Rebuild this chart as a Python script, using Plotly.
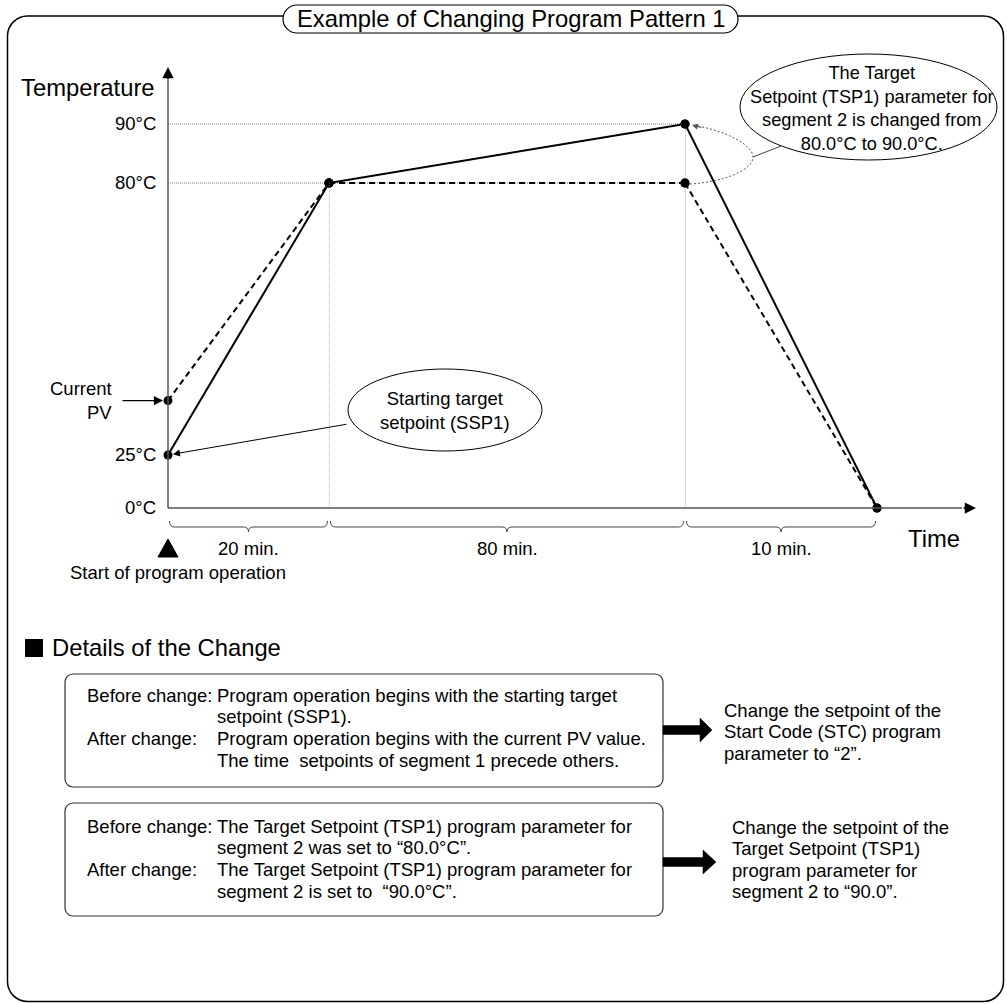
import plotly.graph_objects as go

W, H = 1007, 1004
FONT = "Liberation Sans, Arial, sans-serif"

# ---------------- data ----------------
TIME_BOUNDS = [0, 20, 100, 110]            # minutes at segment boundaries
SEG_LABELS = ["20 min.", "80 min.", "10 min."]
SOLID_TEMPS = [25, 80, 90, 0]              # SSP1 start, TSP1 of segment 2 = 90.0
DASHED_TEMPS = [36, 80, 80, 0]             # start from current PV, TSP1 of segment 2 = 80.0
CURRENT_PV = 36
TICK_TEMPS = [90, 80, 25, 0]
TICK_LABELS = ["90°C", "80°C", "25°C", "0°C"]

BOX1_LABELS = ["Before change:", "", "After change:", ""]
BOX1_VALUES = ["Program operation begins with the starting target",
               "setpoint (SSP1).",
               "Program operation begins with the current PV value.",
               "The time  setpoints of segment 1 precede others."]
BOX2_LABELS = ["Before change:", "", "After change:", ""]
BOX2_VALUES = ["The Target Setpoint (TSP1) program parameter for",
               "segment 2 was set to \u201c80.0°C\u201d.",
               "The Target Setpoint (TSP1) program parameter for",
               "segment 2 is set to  \u201c90.0°C\u201d."]
ACTION1 = ["Change the setpoint of the", "Start Code (STC) program", "parameter to \u201c2\u201d."]
ACTION2 = ["Change the setpoint of the", "Target Setpoint (TSP1)", "program parameter for",
           "segment 2 to \u201c90.0\u201d."]

# ---------------- layout (schematic, not-to-scale axes) ----------------
AX_X_PX = [168, 329, 685, 877]      # pixel columns of the segment axes
AX_BOTTOM, AX_TOP = 508, 68
# each y-axis is a schematic scale calibrated by two (value, pixel-row) pairs
Y_CAL = {
    "y":  ((25, 455), (80, 183)),
    "y2": ((80, 183), (90, 124)),
    "y3": ((0, 508), (90, 124)),
    "y4": ((0, 508), (80, 183)),
}
SOLID_Y = ["y", "y2", "y3"]
DASHED_Y = ["y", "y2", "y4"]
XAX = ["x", "x2", "x3"]


def X(px):
    return px / W


def Y(py):
    return 1 - py / H


def yrange(cal):
    (v1, p1), (v2, p2) = cal
    s = (p1 - p2) / (v2 - v1)
    return [v1 - (AX_BOTTOM - p1) / s, v1 + (p1 - AX_TOP) / s]


def path(cmds):
    out = []
    for c in cmds:
        op, pts = c[0], c[1:]
        coords = " ".join(f"{X(pts[i]):.5f},{Y(pts[i + 1]):.5f}" for i in range(0, len(pts), 2))
        out.append(op + coords)
    return " ".join(out)


def rrect(x0, y0, x1, y1, r):
    k = 0.5523 * r
    return path([
        ("M", x0 + r, y0), ("L", x1 - r, y0), ("C", x1 - r + k, y0, x1, y0 + r - k, x1, y0 + r),
        ("L", x1, y1 - r), ("C", x1, y1 - r + k, x1 - r + k, y1, x1 - r, y1),
        ("L", x0 + r, y1), ("C", x0 + r - k, y1, x0, y1 - r + k, x0, y1 - r),
        ("L", x0, y0 + r), ("C", x0, y0 + r - k, x0 + r - k, y0, x0 + r, y0), ("Z",),
    ])


fig = go.Figure()

GRID = dict(color="#777777", width=1, dash="1px,1px")
# reference grid lines at 90 and 80
for t in [90, 80]:
    for i in range(2):
        fig.add_trace(go.Scatter(x=TIME_BOUNDS[i:i + 2], y=[t, t], xaxis=XAX[i], yaxis="y2",
                                 mode="lines", line=GRID, hoverinfo="skip", cliponaxis=False))
fig.add_trace(go.Scatter(x=[TIME_BOUNDS[1]] * 2, y=[0, DASHED_TEMPS[1]], xaxis="x2", yaxis="y4",
                         mode="lines", line=GRID, hoverinfo="skip", cliponaxis=False))
fig.add_trace(go.Scatter(x=[TIME_BOUNDS[2]] * 2, y=[0, SOLID_TEMPS[2]], xaxis="x3", yaxis="y3",
                         mode="lines", line=GRID, hoverinfo="skip", cliponaxis=False))

# program patterns
for i in range(3):
    fig.add_trace(go.Scatter(x=TIME_BOUNDS[i:i + 2], y=DASHED_TEMPS[i:i + 2], xaxis=XAX[i], yaxis=DASHED_Y[i],
                             mode="lines+markers", line=dict(color="black", width=2, dash="6px,4px"),
                             marker=dict(size=9, color="black"), cliponaxis=False, hoverinfo="skip"))
for i in range(3):
    fig.add_trace(go.Scatter(x=TIME_BOUNDS[i:i + 2], y=SOLID_TEMPS[i:i + 2], xaxis=XAX[i], yaxis=SOLID_Y[i],
                             mode="lines+markers", line=dict(color="black", width=2),
                             marker=dict(size=9, color="black"), cliponaxis=False, hoverinfo="skip"))

shapes = []


def shp(**kw):
    kw.setdefault("xref", "paper")
    kw.setdefault("yref", "paper")
    shapes.append(kw)


# outer frame and title pill
shp(type="path", path=rrect(7.5, 16, 1003.5, 1001.5, 20), line=dict(color="black", width=1.5))
shp(type="path", path=rrect(283, 5, 738, 33, 14), line=dict(color="black", width=1.2), fillcolor="white")
# axes
shp(type="line", x0=X(168), x1=X(168), y0=Y(AX_BOTTOM), y1=Y(80), line=dict(color="#555555", width=1.5))
shp(type="line", x0=X(168), x1=X(962), y0=Y(AX_BOTTOM), y1=Y(AX_BOTTOM), line=dict(color="#555555", width=1.5))
# braces
for i in range(3):
    xl, xr = AX_X_PX[i] + 1.5, AX_X_PX[i + 1] - 1.5
    xc, c = (xl + xr) / 2, 5
    shp(type="path", line=dict(color="#444444", width=1),
        path=path([("M", xl, 521), ("Q", xl, 527, xl + c, 527), ("L", xc - c, 527),
                   ("Q", xc, 527, xc, 532), ("Q", xc, 527, xc + c, 527), ("L", xr - c, 527),
                   ("Q", xr, 527, xr, 521)]))
# start marker triangle
shp(type="path", path=path([("M", 158, 557), ("L", 178, 557), ("L", 168, 539), ("Z",)]),
    fillcolor="black", line=dict(color="black", width=1))
# callout ellipses
shp(type="circle", x0=X(348), x1=X(542), y0=Y(451), y1=Y(369), line=dict(color="black", width=1),
    fillcolor="white")
shp(type="circle", x0=X(740), x1=X(997), y0=Y(160), y1=Y(54), line=dict(color="black", width=1),
    fillcolor="white")
# dotted arc between 80 and 90 points, and connector
shp(type="path", line=dict(color="#555555", width=1, dash="2px,2px"),
    path=path([("M", 690, 184), ("C", 724, 182, 753, 170, 753, 157), ("C", 753, 144, 722, 130, 697, 126)]))
shp(type="line", x0=X(753), y0=Y(157), x1=X(781), y1=Y(146), line=dict(color="#444444", width=1))
# details header square
shp(type="rect", x0=X(25), x1=X(43), y0=Y(657), y1=Y(639), fillcolor="black", line=dict(width=0))
# detail boxes
shp(type="path", path=rrect(65, 674, 663, 787, 8), line=dict(color="#333333", width=1.2))
shp(type="path", path=rrect(65, 803, 663, 916, 8), line=dict(color="#333333", width=1.2))
# thick arrows
for yc, xs, xh in [(730, 700, 712), (862, 703, 716)]:
    shp(type="path", fillcolor="black", line=dict(color="black", width=0.5),
        path=path([("M", 663, yc - 4.5), ("L", xs, yc - 4.5), ("L", xs, yc - 12), ("L", xh, yc),
                   ("L", xs, yc + 12), ("L", xs, yc + 4.5), ("L", 663, yc + 4.5), ("Z",)]))

anns = []


def txt(x, y, text, size=18.5, xanchor="center", xref="paper", yref="paper", align="left", **kw):
    if xref == "paper":
        x = X(x)
    if yref == "paper":
        y = Y(y)
    anns.append(dict(x=x, y=y, xref=xref, yref=yref, text=text, showarrow=False, xanchor=xanchor,
                     yanchor="middle", align=align, font=dict(family=FONT, size=size, color="black"), **kw))


def arrow(x, y, ax, ay, xref="paper", yref="paper", color="black", width=1.3, size=1.4, standoff=0):
    if xref == "paper":
        x = X(x)
    if yref == "paper":
        y = Y(y)
    anns.append(dict(x=x, y=y, xref=xref, yref=yref, ax=ax, ay=ay, text="", showarrow=True,
                     arrowhead=2, arrowsize=size, arrowwidth=width, arrowcolor=color, standoff=standoff))


txt(511, 19, "Example of Changing Program Pattern 1", size=23.8)
txt(157, 87, "Temperature", size=23.8, xanchor="right")
txt(906, 538, "Time", size=23.8, xanchor="left")

tick_ref = {90: "y2", 80: "y2", 25: "y", 0: "y3"}
for t, lab in zip(TICK_TEMPS, TICK_LABELS):
    txt(158, t, lab, xanchor="right", yref=tick_ref[t])
txt(114, CURRENT_PV, "Current<br>PV", xanchor="right", yref="y", align="right")

# axis arrowheads
arrow(168, 67, 0, 14, width=1.5, size=1.5)
arrow(976, AX_BOTTOM, -14, 0, width=1.5, size=1.5)
# Current PV arrow and SSP1 arrow
arrow(TIME_BOUNDS[0], CURRENT_PV, -47, 0, xref="x", yref="y", standoff=5)
arrow(TIME_BOUNDS[0], SOLID_TEMPS[0], 180, -31, xref="x", yref="y", standoff=5, width=1)
# arrowhead of the dotted arc
arrow(692, 125, 11, 3, color="#555555", width=1, size=1.2)

for i, lab in enumerate(SEG_LABELS):
    txt((TIME_BOUNDS[i] + TIME_BOUNDS[i + 1]) / 2, 548, lab, xref=XAX[i])
txt(178, 572, "Start of program operation")

txt(445, 410, "Starting target<br>setpoint (SSP1)", align="center")
txt(872, 108, "The Target<br>Setpoint (TSP1) parameter for<br>segment 2 is changed from<br>80.0°C to 90.0°C.",
    size=18.2, align="center")

txt(50, 647, "Details of the Change", size=23.8, xanchor="left")

for labels, values, y0 in [(BOX1_LABELS, BOX1_VALUES, 695), (BOX2_LABELS, BOX2_VALUES, 826)]:
    for k, (l, v) in enumerate(zip(labels, values)):
        yy = y0 + 21.7 * k
        if l:
            txt(85, yy, l, xanchor="left")
        txt(215, yy, v.replace("  ", "&nbsp; "), xanchor="left")

for k, line in enumerate(ACTION1):
    txt(722, 710 + 21.5 * k, line, xanchor="left")
for k, line in enumerate(ACTION2):
    txt(730, 827 + 21.5 * k, line, xanchor="left")

ydom = [Y(AX_BOTTOM), Y(AX_TOP)]
layout_axes = {}
for i, xa in enumerate(["xaxis", "xaxis2", "xaxis3"]):
    layout_axes[xa] = dict(domain=[X(AX_X_PX[i]), X(AX_X_PX[i + 1])],
                           range=[TIME_BOUNDS[i], TIME_BOUNDS[i + 1]], anchor="y", visible=False)
for name, cal in Y_CAL.items():
    key = "yaxis" + name[1:]
    ax = dict(range=yrange(cal), anchor="x", visible=False)
    if name == "y":
        ax["domain"] = ydom
    else:
        ax["overlaying"] = "y"
    layout_axes[key] = ax

fig.update_layout(width=W, height=H, margin=dict(l=0, r=0, t=0, b=0), paper_bgcolor="white",
                  plot_bgcolor="rgba(0,0,0,0)", showlegend=False, shapes=shapes, annotations=anns,
                  font=dict(family=FONT), **layout_axes)

fig.write_html("out.html", config={"displayModeBar": False, "staticPlot": True},
               post_script="document.body.style.margin='0';document.body.style.overflow='hidden';")
